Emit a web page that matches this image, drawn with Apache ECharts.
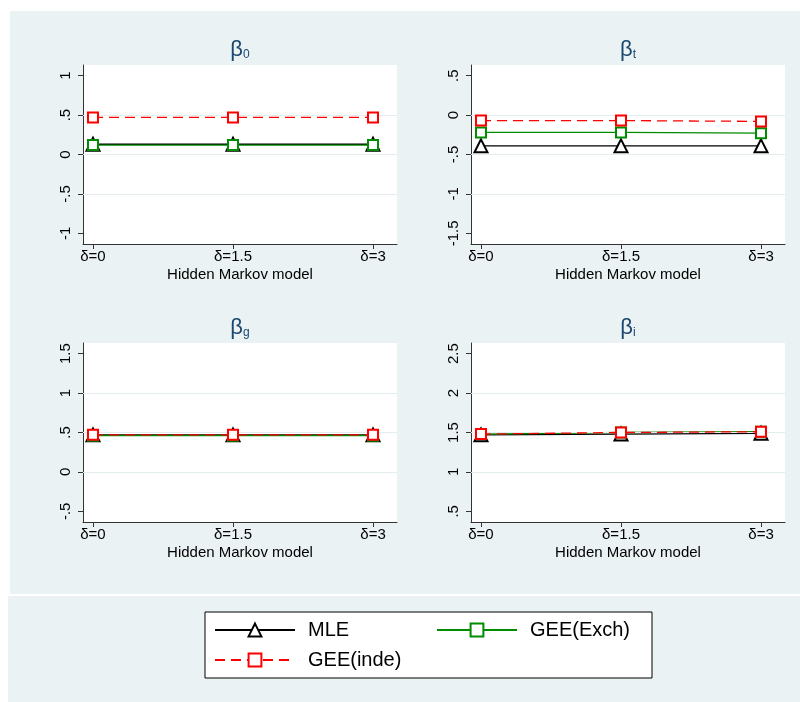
<!DOCTYPE html>
<html>
<head>
<meta charset="utf-8">
<script src="https://cdn.jsdelivr.net/npm/echarts@6/dist/echarts.min.js"></script>
<style>
  html, body { margin: 0; padding: 0; background: #fff; }
  #chart { width: 800px; height: 702px; }
</style>
</head>
<body>
<div id="chart"></div>
<script>
// x categories (delta values of the hidden Markov model)
const xCats = ['δ=0', 'δ=1.5', 'δ=3'];
const xVals = [0, 1.5, 3];

const seriesNames = ['MLE', 'GEE(Exch)', 'GEE(inde)'];

// beta_0
const b0Mle = [0.13, 0.13, 0.13];
const b0Exch = [0.12, 0.12, 0.12];
const b0Inde = [0.47, 0.47, 0.47];
// beta_t
const btMle = [-0.39, -0.39, -0.39];
const btExch = [-0.22, -0.22, -0.23];
const btInde = [-0.07, -0.07, -0.08];
// beta_g
const bgMle = [0.47, 0.47, 0.47];
const bgExch = [0.46, 0.46, 0.46];
const bgInde = [0.47, 0.47, 0.47];
// beta_i
const biMle = [1.47, 1.48, 1.49];
const biExch = [1.48, 1.50, 1.51];
const biInde = [1.48, 1.50, 1.51];

// y tick labels per panel
const ticks0 = [-1, -0.5, 0, 0.5, 1];
const ticksT = [-1.5, -1, -0.5, 0, 0.5];
const ticksG = [-0.5, 0, 0.5, 1, 1.5];
const ticksI = [0.5, 1, 1.5, 2, 2.5];

const panels = [
  {sub: '0', data: [b0Mle, b0Exch, b0Inde], ticks: ticks0, left: 83, top: 65},
  {sub: 't', data: [btMle, btExch, btInde], ticks: ticksT, left: 471, top: 65},
  {sub: 'g', data: [bgMle, bgExch, bgInde], ticks: ticksG, left: 83, top: 343},
  {sub: 'i', data: [biMle, biExch, biInde], ticks: ticksI, left: 471, top: 343}
];

const FONT = 'Liberation Sans, Arial, sans-serif';
const NAVY = '#1a476f';
const GRID_LINE = '#e3ecee';
const styles = [
  {color: '#000000', symbol: 'emptyTriangle', size: 13, type: 'solid'},
  {color: '#008c00', symbol: 'emptyRect', size: 10, type: 'solid'},
  {color: '#ff0000', symbol: 'emptyRect', size: 10, type: [10, 6]}
];

const fmtTick = v => String(v).replace(/^(-?)0\./, '$1.');
const pad = 0.135;

const grids = [], xAxes = [], yAxes = [], titles = [], series = [];
panels.forEach((p, i) => {
  grids.push({
    left: p.left, top: p.top, width: 314, height: 179,
    show: true, backgroundColor: '#fff', borderWidth: 0
  });
  xAxes.push({
    type: 'value', gridIndex: i,
    min: -0.107, max: 3.257,
    name: 'Hidden Markov model', nameLocation: 'middle', nameGap: 23,
    nameTextStyle: {fontFamily: FONT, fontSize: 15, color: '#000'},
    axisLine: {show: true, onZero: false, lineStyle: {color: '#333', width: 1}},
    axisTick: {show: true, length: 5, customValues: xVals, lineStyle: {color: '#333'}},
    axisLabel: {
      customValues: xVals, margin: 5,
      fontFamily: FONT, fontSize: 15, color: '#000',
      formatter: v => xCats[xVals.indexOf(v)]
    },
    splitLine: {show: false}
  });
  const lo = p.ticks[0] - pad, hi = p.ticks[p.ticks.length - 1] + pad;
  yAxes.push({
    type: 'value', gridIndex: i, min: lo, max: hi,
    axisLine: {show: true, onZero: false, lineStyle: {color: '#333', width: 1}},
    axisTick: {show: true, length: 5, customValues: p.ticks, lineStyle: {color: '#333'}},
    axisLabel: {
      customValues: p.ticks, rotate: 90, margin: 10,
      fontFamily: FONT, fontSize: 15, color: '#000',
      formatter: fmtTick
    },
    splitLine: {show: false}
  });
  titles.push({
    text: '{b|β}{s|' + p.sub + '}',
    left: p.left + 157, top: p.top - 26, textAlign: 'center', padding: 0,
    textStyle: {
      fontWeight: 'normal',
      rich: {
        b: {fontFamily: FONT, fontSize: 22, fontWeight: 'normal', color: NAVY, verticalAlign: 'bottom'},
        s: {fontFamily: FONT, fontSize: 12, fontWeight: 'normal', color: NAVY, verticalAlign: 'bottom'}
      }
    }
  });
  // light grid lines at the inner ticks only
  series.push({
    type: 'line', xAxisIndex: i, yAxisIndex: i, data: [], z: 1, silent: true,
    markLine: {
      silent: true, symbol: 'none', label: {show: false},
      lineStyle: {color: GRID_LINE, type: 'solid', width: 1},
      data: p.ticks.slice(1, -1).map(v => ({yAxis: v}))
    }
  });
  p.data.forEach((arr, k) => {
    const s = styles[k];
    series.push({
      name: seriesNames[k], type: 'line', xAxisIndex: i, yAxisIndex: i,
      data: xVals.map((x, j) => [x, arr[j]]),
      symbol: s.symbol, symbolSize: s.size,
      itemStyle: {color: s.color, borderWidth: 1.5},
      lineStyle: {color: s.color, width: 1.3, type: s.type},
      z: 3 + k
    });
  });
});

const chart = echarts.init(document.getElementById('chart'));
chart.setOption({
  animation: false,
  graphic: [
    {type: 'rect', z: -100, shape: {x: 10, y: 11, width: 790, height: 583}, style: {fill: '#eaf2f3'}},
    {type: 'rect', z: -100, shape: {x: 8, y: 596, width: 792, height: 106}, style: {fill: '#eaf2f3'}}
  ],
  title: titles,
  grid: grids,
  xAxis: xAxes,
  yAxis: yAxes,
  legend: {
    data: seriesNames,
    left: 205, top: 612, width: 440,
    padding: [8, 4, 8, 9],
    itemGap: 10, itemWidth: 80, itemHeight: 16,
    backgroundColor: '#fff', borderColor: '#000', borderWidth: 1,
    textStyle: {fontFamily: FONT, fontSize: 20, color: '#000', width: 118, lineHeight: 20, padding: [0, 0, 0, 8]}
  },
  series: series
});
</script>
</body>
</html>
